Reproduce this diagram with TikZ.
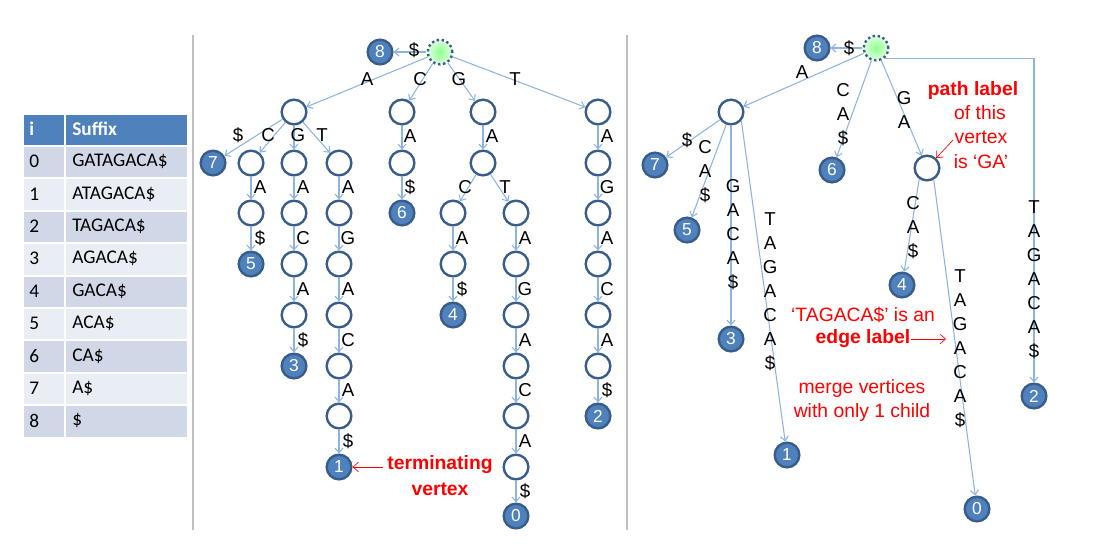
\documentclass[tikz,border=0pt]{standalone}
\usepackage{fontspec}
\setmainfont{Liberation Sans}
\newfontfamily\calibri{Carlito}
\usetikzlibrary{arrows.meta}
\definecolor{hdr}{HTML}{4F81BD}
\definecolor{rowA}{HTML}{D0D8E8}
\definecolor{rowB}{HTML}{E9EDF4}
\definecolor{nodeb}{HTML}{385D8A}
\definecolor{edgec}{HTML}{8DB3E2}
\definecolor{sepc}{HTML}{BFBFBF}
\definecolor{notec}{HTML}{FF0000}
\tikzset{
  emp/.style={circle, draw=nodeb, line width=1.8pt, fill=white, minimum size=18.5pt, inner sep=0pt},
  leaf/.style={circle, draw=nodeb, line width=1.8pt, fill=hdr, minimum size=18.5pt, inner sep=0pt,
     text=white, font=\fontsize{13}{13}\selectfont},
  rootn/.style={circle, draw=nodeb, dotted, line width=1.8pt, inner color=green!45!white,
     outer color=green!12!white, minimum size=18.5pt, inner sep=0pt},
  edge/.style={draw=edgec, line width=0.8pt, -{Straight Barb[length=3.5pt,width=6pt]}},
  lab/.style={font=\fontsize{14}{14}\selectfont, inner sep=0pt},
  stack/.style={font=\fontsize{14}{18}\selectfont, align=center, inner sep=0pt},
  note/.style={text=notec, font=\fontsize{14.5}{14.5}\selectfont, inner sep=0pt},
  bnote/.style={note, font=\fontsize{14.5}{14.5}\selectfont\bfseries},
  noteline/.style={draw=notec, line width=0.5pt, -{Straight Barb[length=4pt,width=7pt]}},
  cell/.style={rectangle, draw=white, line width=1.5pt, anchor=north west, inner sep=0pt,
     minimum height=24.3pt},
  ctext/.style={anchor=west, inner sep=0pt, font=\calibri\fontsize{14.5}{14.5}\selectfont},
  sepline/.style={draw=sepc, line width=1.2pt}
}
\begin{document}
\begin{tikzpicture}[x=0.75pt, y=-0.75pt]
\useasboundingbox (0,0) rectangle (1112,544);

% ---------------- table ----------------
\node[cell, fill=hdr, minimum width=31.5pt, minimum height=24pt] (h1) at (22,113) {};
\node[cell, fill=hdr, minimum width=92.25pt, minimum height=24pt] (h2) at (64,113) {};
\node[ctext, text=white, font=\calibri\fontsize{14.5}{14.5}\selectfont\bfseries] (ht1) at (29,129) {i};
\node[ctext, text=white, font=\calibri\fontsize{14.5}{14.5}\selectfont\bfseries] (ht2) at (72,129) {Suffix};
\foreach \s [count=\k from 0] in {GATAGACA\$, ATAGACA\$, TAGACA\$, AGACA\$, GACA\$, ACA\$, CA\$, A\$, \$} {
  \pgfmathsetmacro\yy{145+32.4*\k}
  \pgfmathsetmacro\ym{\yy+16.4}
  \ifodd\k \def\rc{rowB}\else \def\rc{rowA}\fi
  \node[cell, fill=\rc, minimum width=31.5pt] (ca\k) at (22,\yy) {};
  \node[cell, fill=\rc, minimum width=92.25pt] (cb\k) at (64,\yy) {};
  \node[ctext] (ta\k) at (29,\ym) {\k};
  \node[ctext] (tb\k) at (72,\ym) {\s};
}

% ---------------- separators ----------------
\draw[sepline] (193,35) -- (193,530);
\draw[sepline] (627,35) -- (627,530);

% ---------------- left tree ----------------
\node[rootn] (r1) at (440,52) {};
\node[leaf] (e8) at (380,52) {8};
\node[emp] (a) at (294,112) {};
\node[emp] (c) at (402,112) {};
\node[emp] (g) at (483,112) {};
\node[emp] (t) at (598,112) {};
\node[leaf] (l7) at (213,163) {7};
\node[emp] (ac) at (251,163) {};
\node[emp] (ag) at (294,163) {};
\node[emp] (at) at (339,163) {};
\node[emp] (ca) at (402,163) {};
\node[emp] (ga) at (483,163) {};
\node[emp] (ta) at (598,163) {};
\node[emp] (aca) at (251,213) {};
\node[emp] (aga) at (294,213) {};
\node[emp] (ata) at (339,213) {};
\node[leaf] (l6) at (402,213) {6};
\node[emp] (gac) at (453,213) {};
\node[emp] (gat) at (516,213) {};
\node[emp] (tag) at (598,213) {};
\node[leaf] (l5) at (251,264) {5};
\node[emp] (agac) at (294,264) {};
\node[emp] (atag) at (339,264) {};
\node[emp] (gaca) at (453,264) {};
\node[emp] (gata) at (516,264) {};
\node[emp] (taga) at (598,264) {};
\node[emp] (agaca) at (294,315) {};
\node[emp] (ataga) at (339,315) {};
\node[leaf] (l4) at (453,315) {4};
\node[emp] (gatag) at (516,315) {};
\node[emp] (tagac) at (598,315) {};
\node[leaf] (l3) at (294,366) {3};
\node[emp] (atagac) at (339,366) {};
\node[emp] (gataga) at (516,366) {};
\node[emp] (tagaca) at (598,366) {};
\node[emp] (atagaca) at (339,416) {};
\node[emp] (gatagac) at (516,416) {};
\node[leaf] (l2) at (598,416) {2};
\node[leaf] (l1) at (339,467) {1};
\node[emp] (gatagaca) at (516,467) {};
\node[leaf] (l0) at (516,516) {0};

\draw[edge] (r1) -- (e8);   \node[lab] (x1) at (414,50) {\$};
\draw[edge] (r1) -- (a);    \node[lab] (x2) at (367,79) {A};
\draw[edge] (r1) -- (c);    \node[lab] (x3) at (420,79) {C};
\draw[edge] (r1) -- (g);    \node[lab] (x4) at (459,79) {G};
\draw[edge] (r1) -- (t);    \node[lab] (x5) at (515,79) {T};
\draw[edge] (a) -- (l7);    \node[lab] (x6) at (238,135) {\$};
\draw[edge] (a) -- (ac);    \node[lab] (x7) at (268,135) {C};
\draw[edge] (a) -- (ag);    \node[lab] (x8) at (298,135) {G};
\draw[edge] (a) -- (at);    \node[lab] (x9) at (322,135) {T};
\draw[edge] (c) -- (ca);    \node[lab] (x10) at (410,136) {A};
\draw[edge] (g) -- (ga);    \node[lab] (x11) at (492,136) {A};
\draw[edge] (t) -- (ta);    \node[lab] (x12) at (607,136) {A};
\draw[edge] (ac) -- (aca);  \node[lab] (x13) at (260,187) {A};
\draw[edge] (aca) -- (l5);  \node[lab] (x14) at (260,238) {\$};
\draw[edge] (ag) -- (aga);  \node[lab] (x15) at (303,187) {A};
\draw[edge] (aga) -- (agac); \node[lab] (x16) at (303,238) {C};
\draw[edge] (agac) -- (agaca); \node[lab] (x17) at (303,289) {A};
\draw[edge] (agaca) -- (l3); \node[lab] (x18) at (303,340) {\$};
\draw[edge] (at) -- (ata);  \node[lab] (x19) at (348,187) {A};
\draw[edge] (ata) -- (atag); \node[lab] (x20) at (348,238) {G};
\draw[edge] (atag) -- (ataga); \node[lab] (x21) at (348,289) {A};
\draw[edge] (ataga) -- (atagac); \node[lab] (x22) at (348,340) {C};
\draw[edge] (atagac) -- (atagaca); \node[lab] (x23) at (348,390) {A};
\draw[edge] (atagaca) -- (l1); \node[lab] (x24) at (348,441) {\$};
\draw[edge] (ca) -- (l6);   \node[lab] (x25) at (410,187) {\$};
\draw[edge] (ga) -- (gac);  \node[lab] (x26) at (465,187) {C};
\draw[edge] (ga) -- (gat);  \node[lab] (x27) at (505,187) {T};
\draw[edge] (gac) -- (gaca); \node[lab] (x28) at (462,238) {A};
\draw[edge] (gaca) -- (l4); \node[lab] (x29) at (462,289) {\$};
\draw[edge] (gat) -- (gata); \node[lab] (x30) at (525,238) {A};
\draw[edge] (gata) -- (gatag); \node[lab] (x31) at (525,289) {G};
\draw[edge] (gatag) -- (gataga); \node[lab] (x32) at (525,340) {A};
\draw[edge] (gataga) -- (gatagac); \node[lab] (x33) at (525,390) {C};
\draw[edge] (gatagac) -- (gatagaca); \node[lab] (x34) at (525,441) {A};
\draw[edge] (gatagaca) -- (l0); \node[lab] (x35) at (525,491) {\$};
\draw[edge] (ta) -- (tag);  \node[lab] (x36) at (607,187) {G};
\draw[edge] (tag) -- (taga); \node[lab] (x37) at (607,238) {A};
\draw[edge] (taga) -- (tagac); \node[lab] (x38) at (607,289) {C};
\draw[edge] (tagac) -- (tagaca); \node[lab] (x39) at (607,340) {A};
\draw[edge] (tagaca) -- (l2); \node[lab] (x40) at (607,390) {\$};

\node[bnote] (term1) at (440,465) {terminating};
\node[bnote] (term2) at (440,489) {vertex};
\coordinate (termA) at (383,467);
\draw[noteline] (termA) -- (l1);

% ---------------- right tree ----------------
\node[rootn] (r2) at (876,48) {};
\node[leaf] (f8) at (817,48) {8};
\node[emp] (ra) at (731,112) {};
\node[leaf] (m7) at (655,165) {7};
\node[leaf] (m5) at (687,230) {5};
\node[leaf] (m3) at (731,339) {3};
\node[leaf] (m1) at (787,455) {1};
\node[leaf] (m6) at (832,170) {6};
\node[emp] (gan) at (927,168) {};
\node[leaf] (m4) at (902,285) {4};
\node[leaf] (m0) at (977,509) {0};
\node[leaf] (m2) at (1034,396) {2};

\draw[edge] (r2) -- (f8);   \node[lab] (y1) at (849,48) {\$};
\draw[edge] (r2) -- (ra);   \node[lab] (y2) at (802,72) {A};
\draw[edge] (r2) -- (m6);   \node[stack] (y3) at (843,115) {C\\A\\\$};
\draw[edge] (r2) -- (gan);  \node[stack] (y4) at (904,110) {G\\A};
\draw[edge] (r2.-50) -| (m2); \node[stack] (y5) at (1034,280) {T\\A\\G\\A\\C\\A\\\$};
\draw[edge] (ra) -- (m7);   \node[lab] (y6) at (687,140) {\$};
\draw[edge] (ra) -- (m5);   \node[stack] (y7) at (705,172) {C\\A\\\$};
\draw[edge] (ra) -- (m3);   \node[stack] (y8) at (733,235) {G\\A\\C\\A\\\$};
\draw[edge] (ra.-40) -- (m1); \node[stack] (y9) at (770,292) {T\\A\\G\\A\\C\\A\\\$};
\draw[edge] (gan.-125) -- (m4); \node[stack] (y10) at (913,228) {C\\A\\\$};
\draw[edge] (gan.-60) -- (m0); \node[stack] (y11) at (960,349) {T\\A\\G\\A\\C\\A\\\$};

\node[bnote] (pl1) at (973,90) {path label};
\node[note] (pl2) at (980,113) {of this};
\node[note] (pl3) at (981,137) {vertex};
\node[note] (pl4) at (981,162) {is ‘GA’};
\coordinate (plA) at (953,140);
\draw[noteline] (plA) -- (gan);

\node[note] (el1) at (863,315) {‘TAGACA\$’ is an};
\node[bnote] (el2) at (863,339) {edge label};
\coordinate (elA) at (946,339);
\draw[noteline] (el2.east) -- (elA);

\node[note] (mg1) at (862,388) {merge vertices};
\node[note] (mg2) at (862,412) {with only 1 child};
\end{tikzpicture}
\end{document}
